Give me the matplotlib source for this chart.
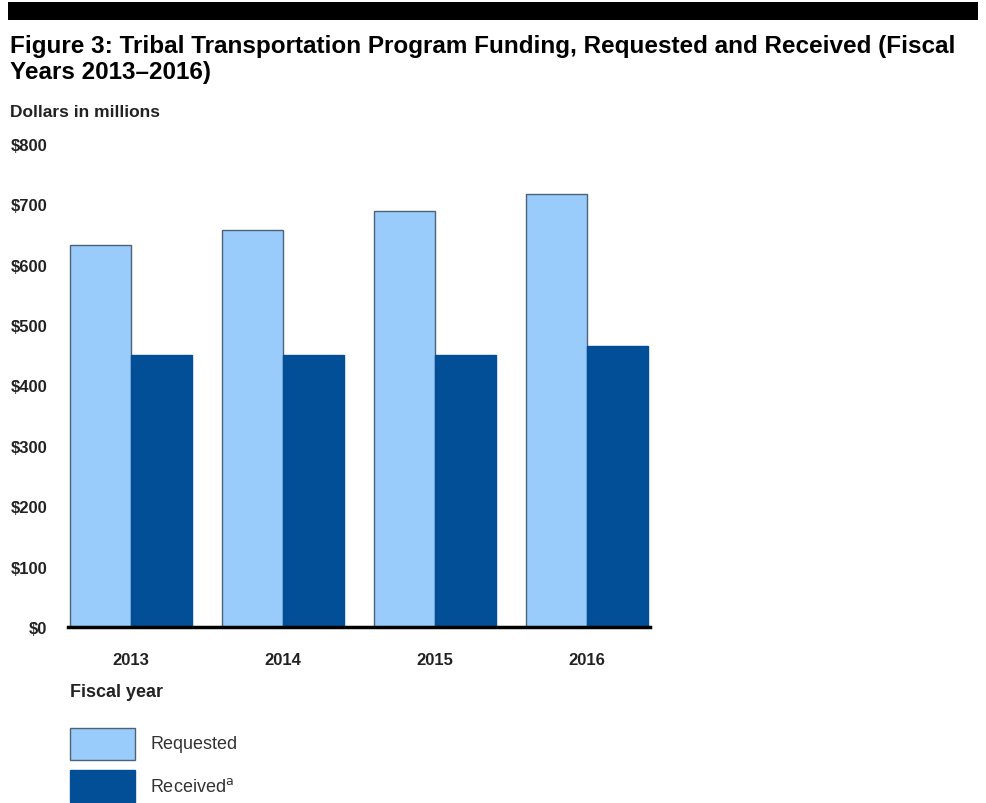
import numpy as np
import matplotlib.pyplot as plt
from matplotlib.patches import Rectangle

# funding by fiscal year, dollars in millions
years = ['2013', '2014', '2015', '2016']
requested = [632, 658, 689, 718]
received = [450, 450, 450, 465]
yticks = [0, 100, 200, 300, 400, 500, 600, 700, 800]

light = '#99ccfa'
dark = '#034f97'
edge = '#4d6278'

W, H = 986, 804
fig = plt.figure(figsize=(W / 100, H / 100), dpi=100)
plt.rcParams['font.family'] = ['Liberation Sans', 'DejaVu Sans']


def fx(px):
    return px / W


def fy(py):
    return 1 - py / H


# black rule across the top
fig.patches.append(Rectangle((fx(8), fy(21)), fx(970), 18 / H, transform=fig.transFigure,
                             facecolor='black', edgecolor='none'))

fig.text(fx(10), fy(53), 'Figure 3: Tribal Transportation Program Funding, Requested and Received (Fiscal',
         fontweight='bold', fontsize=17.5, va='baseline')
fig.text(fx(10), fy(79), 'Years 2013\u20132016)',
         fontweight='bold', fontsize=17.5, va='baseline')
fig.text(fx(10), fy(117), 'Dollars in millions', fontweight='bold', fontsize=12.5,
         va='baseline', color='#222222')

ax = fig.add_axes([fx(68), fy(628), fx(582), 483 / H])
x = np.arange(len(years))
w = 0.4
ax.bar(x - w / 2, requested, w, color=light, edgecolor=edge, linewidth=1)
ax.bar(x + w / 2, received, w, color=dark, edgecolor=dark, linewidth=1)

ax.set_ylim(0, 800)
ax.set_xlim(-0.415, 3.415)
ax.set_yticks(yticks)
ax.set_yticklabels(['$%d' % v for v in yticks], fontweight='bold', fontsize=12, color='#222222')
ax.set_xticks(x)
ax.set_xticklabels(years, fontweight='bold', fontsize=12, color='#222222')
ax.tick_params(axis='y', length=0, pad=15)
ax.tick_params(axis='x', length=0, pad=18)
for s in ['left', 'right', 'top']:
    ax.spines[s].set_visible(False)
ax.spines['bottom'].set_linewidth(2.5)
ax.spines['bottom'].set_color('black')

fig.text(fx(70), fy(697), 'Fiscal year', fontweight='bold', fontsize=13,
         va='baseline', color='#222222')

# legend swatches
fig.patches.append(Rectangle((fx(70), fy(761)), fx(65), 32 / H, transform=fig.transFigure,
                             facecolor=light, edgecolor=edge, linewidth=1))
fig.patches.append(Rectangle((fx(70), fy(803)), fx(65), 32 / H, transform=fig.transFigure,
                             facecolor=dark, edgecolor=dark, linewidth=1))
fig.text(fx(150), fy(745), 'Requested', fontsize=13, va='center', color='#333333')
fig.text(fx(150), fy(787), 'Received$^{\\mathrm{a}}$', fontsize=13, va='center', color='#333333')

fig.savefig('out.png', dpi=100)
